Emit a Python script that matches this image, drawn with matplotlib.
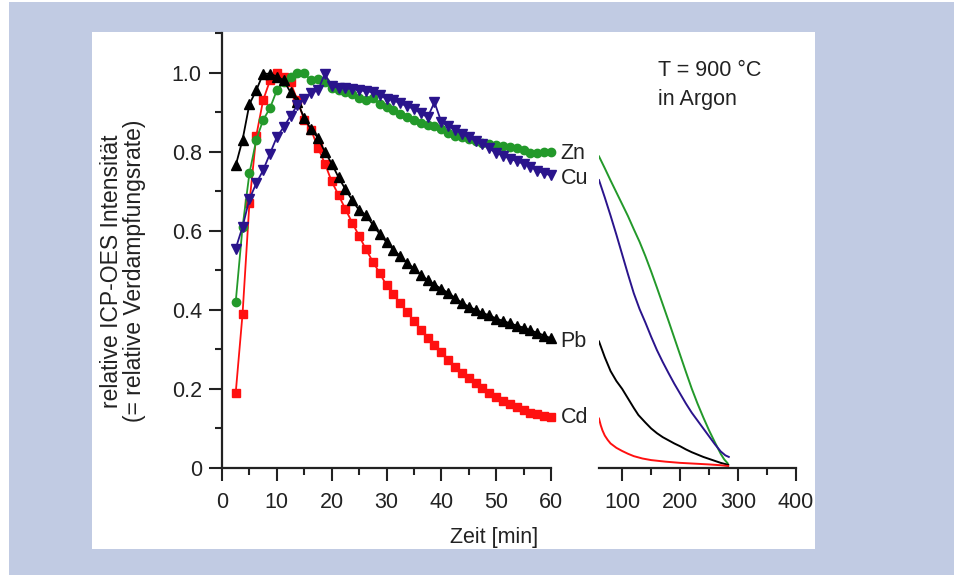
import matplotlib
matplotlib.use("Agg")
import matplotlib.pyplot as plt
from matplotlib.patches import Rectangle
from matplotlib.ticker import MultipleLocator

plt.rcParams['font.family'] = ['Liberation Sans', 'DejaVu Sans']

# ---------------- data ----------------
time_min = [2.5, 3.75, 5.0, 6.25, 7.5, 8.75, 10.0, 11.25, 12.5, 13.75,
            15.0, 16.25, 17.5, 18.75, 20.0, 21.25, 22.5, 23.75, 25.0, 26.25,
            27.5, 28.75, 30.0, 31.25, 32.5, 33.75, 35.0, 36.25, 37.5, 38.75,
            40.0, 41.25, 42.5, 43.75, 45.0, 46.25, 47.5, 48.75, 50.0, 51.25,
            52.5, 53.75, 55.0, 56.25, 57.5, 58.75, 60.0]

cd = [0.19, 0.39, 0.67, 0.84, 0.93, 0.98, 1.00, 0.99, 0.975, 0.93,
      0.88, 0.855, 0.81, 0.77, 0.725, 0.69, 0.655, 0.62, 0.587, 0.553,
      0.522, 0.493, 0.462, 0.439, 0.416, 0.395, 0.372, 0.35, 0.33, 0.31,
      0.293, 0.274, 0.256, 0.24, 0.227, 0.214, 0.203, 0.19, 0.18, 0.17,
      0.162, 0.153, 0.146, 0.14, 0.136, 0.131, 0.13]

pb = [0.765, 0.83, 0.92, 0.955, 0.997, 0.997, 0.99, 0.98, 0.95, 0.925,
      0.885, 0.856, 0.835, 0.80, 0.77, 0.735, 0.705, 0.677, 0.652, 0.64,
      0.615, 0.592, 0.571, 0.552, 0.536, 0.518, 0.505, 0.488, 0.475, 0.464,
      0.453, 0.443, 0.43, 0.418, 0.408, 0.40, 0.392, 0.386, 0.378, 0.372,
      0.366, 0.36, 0.355, 0.348, 0.342, 0.335, 0.328]

zn = [0.42, 0.61, 0.745, 0.83, 0.88, 0.91, 0.955, 0.975, 0.99, 0.998,
      0.998, 0.98, 0.983, 0.975, 0.962, 0.955, 0.95, 0.945, 0.935, 0.93,
      0.935, 0.92, 0.912, 0.905, 0.895, 0.888, 0.88, 0.873, 0.868, 0.864,
      0.857, 0.846, 0.84, 0.836, 0.831, 0.826, 0.823, 0.82, 0.816, 0.813,
      0.811, 0.81, 0.803, 0.797, 0.797, 0.80, 0.80]

cu = [0.555, 0.61, 0.68, 0.72, 0.753, 0.795, 0.837, 0.862, 0.89, 0.918,
      0.932, 0.948, 0.955, 0.997, 0.965, 0.962, 0.96, 0.958, 0.955, 0.953,
      0.95, 0.942, 0.934, 0.93, 0.922, 0.915, 0.908, 0.897, 0.887, 0.925,
      0.875, 0.865, 0.855, 0.845, 0.836, 0.827, 0.819, 0.808, 0.797, 0.79,
      0.782, 0.776, 0.769, 0.762, 0.752, 0.745, 0.74]

# long-time part (right panel), continuous lines
zn_long_t = [60, 70, 80, 90, 100, 110, 120, 130, 140, 150, 160, 170, 180, 190,
             200, 210, 220, 230, 240, 250, 260, 270, 276, 282]
zn_long = [0.788, 0.758, 0.727, 0.697, 0.667, 0.637, 0.604, 0.572, 0.536, 0.497,
           0.456, 0.414, 0.372, 0.329, 0.286, 0.243, 0.201, 0.163, 0.128, 0.095,
           0.065, 0.036, 0.022, 0.012]

cu_long_t = [60, 70, 80, 90, 100, 110, 120, 130, 140, 150, 160, 170, 180, 190,
             200, 210, 220, 230, 240, 250, 260, 270, 278, 284]
cu_long = [0.728, 0.684, 0.638, 0.59, 0.54, 0.49, 0.442, 0.402, 0.368, 0.332,
           0.298, 0.268, 0.24, 0.213, 0.188, 0.163, 0.14, 0.12, 0.1, 0.08,
           0.06, 0.042, 0.032, 0.028]

pb_long_t = [60, 70, 80, 90, 100, 110, 120, 128, 140, 150, 160, 170, 180, 190,
             200, 210, 220, 230, 240, 250, 260, 270, 283]
pb_long = [0.32, 0.28, 0.245, 0.22, 0.2, 0.176, 0.152, 0.134, 0.115, 0.1,
           0.088, 0.078, 0.07, 0.062, 0.055, 0.047, 0.04, 0.034, 0.028, 0.023,
           0.018, 0.013, 0.008]

cd_long_t = [60, 63, 66, 70, 75, 80, 90, 100, 110, 120, 135, 150, 175, 200, 225, 250, 270, 283]
cd_long = [0.125, 0.108, 0.095, 0.082, 0.071, 0.062, 0.051, 0.043, 0.036, 0.03,
           0.024, 0.02, 0.016, 0.013, 0.011, 0.009, 0.007, 0.005]

labels = ['Zn', 'Cu', 'Pb', 'Cd']
label_y = [0.795, 0.732, 0.32, 0.127]

c_cd = '#ff1010'
c_zn = '#23992a'
c_pb = '#000000'
c_cu = '#2a148c'

FS = 15.5
TXT = '#222222'

# ---------------- figure ----------------
W, H = 958, 575
fig = plt.figure(figsize=(W / 100, H / 100), dpi=100)
fig.patch.set_facecolor('white')

def px_rect(x0, y0, x1, y1, color):
    fig.patches.append(Rectangle((x0 / W, 1 - y1 / H), (x1 - x0) / W, (y1 - y0) / H,
                                 transform=fig.transFigure, facecolor=color,
                                 edgecolor='none', zorder=-10))

px_rect(9, 2, 954, 575, '#c1cbe3')
px_rect(92, 32, 815, 549, 'white')

def axes_px(x0, x1, ytop, ybot):
    return fig.add_axes([x0 / W, 1 - ybot / H, (x1 - x0) / W, (ybot - ytop) / H])

axL = axes_px(222, 551, 33, 468)
axR = axes_px(599, 796, 33, 468)

spine_col = '#222222'
for ax in (axL, axR):
    ax.set_facecolor('none')
    ax.set_ylim(0, 1.1)
    for s in ('top', 'right'):
        ax.spines[s].set_visible(False)
    for s in ('left', 'bottom'):
        ax.spines[s].set_linewidth(1.6)
        ax.spines[s].set_color(spine_col)
    ax.tick_params(which='major', direction='out', length=9.5, width=1.5,
                   color=spine_col, labelsize=FS, labelcolor=TXT)
    ax.tick_params(which='minor', direction='out', length=5, width=1.5, color=spine_col)
    ax.tick_params(axis='x', which='major', pad=8)
    ax.tick_params(axis='y', which='major', pad=5)

axL.set_xlim(0, 60)
axL.xaxis.set_major_locator(MultipleLocator(10))
axL.xaxis.set_minor_locator(MultipleLocator(5))
axL.set_yticks([0, 0.2, 0.4, 0.6, 0.8, 1.0])
axL.set_yticklabels(['0', '0.2', '0.4', '0.6', '0.8', '1.0'])
axL.yaxis.set_minor_locator(MultipleLocator(0.1))

axR.set_xlim(60, 400)
axR.set_xticks([100, 200, 300, 400])
axR.set_xticks([150, 250, 350], minor=True)
axR.spines['left'].set_visible(False)
axR.tick_params(axis='y', which='both', left=False, labelleft=False)

lw = 1.3
axL.plot(time_min, cd, color=c_cd, lw=lw, marker='s', ms=5.5, mec=c_cd, mfc=c_cd, clip_on=False, zorder=3)
axL.plot(time_min, zn, color=c_zn, lw=lw, marker='o', ms=6, mec=c_zn, mfc=c_zn, clip_on=False, zorder=4)
axL.plot(time_min, pb, color=c_pb, lw=lw, marker='^', ms=7, mec=c_pb, mfc=c_pb, clip_on=False, zorder=5)
axL.plot(time_min, cu, color=c_cu, lw=lw, marker='v', ms=7, mec=c_cu, mfc=c_cu, clip_on=False, zorder=6)

axR.plot(zn_long_t, zn_long, color=c_zn, lw=1.4)
axR.plot(cu_long_t, cu_long, color=c_cu, lw=1.4)
axR.plot(pb_long_t, pb_long, color=c_pb, lw=1.4)
axR.plot(cd_long_t, cd_long, color=c_cd, lw=1.4)

for lab, yv in zip(labels, label_y):
    axL.annotate(lab, xy=(60, yv), xytext=(7, 0), textcoords='offset points',
                 ha='left', va='center', fontsize=FS, color=TXT,
                 annotation_clip=False)

fig.text(658 / W, 1 - 70 / H, 'T = 900 °C', ha='left', va='center', fontsize=FS, color=TXT)
fig.text(658 / W, 1 - 100 / H, 'in Argon', ha='left', va='center', fontsize=FS, color=TXT)

fig.text(123 / W, 1 - 271 / H, 'relative ICP-OES Intensität\n(= relative Verdampfungsrate)',
         rotation=90, ha='center', va='center', fontsize=16.5, color=TXT,
         linespacing=1.05, multialignment='center')
fig.text(494 / W, 1 - 538 / H, 'Zeit [min]', ha='center', va='center', fontsize=FS, color=TXT)

fig.savefig('out.png', dpi=100, facecolor=fig.get_facecolor())
